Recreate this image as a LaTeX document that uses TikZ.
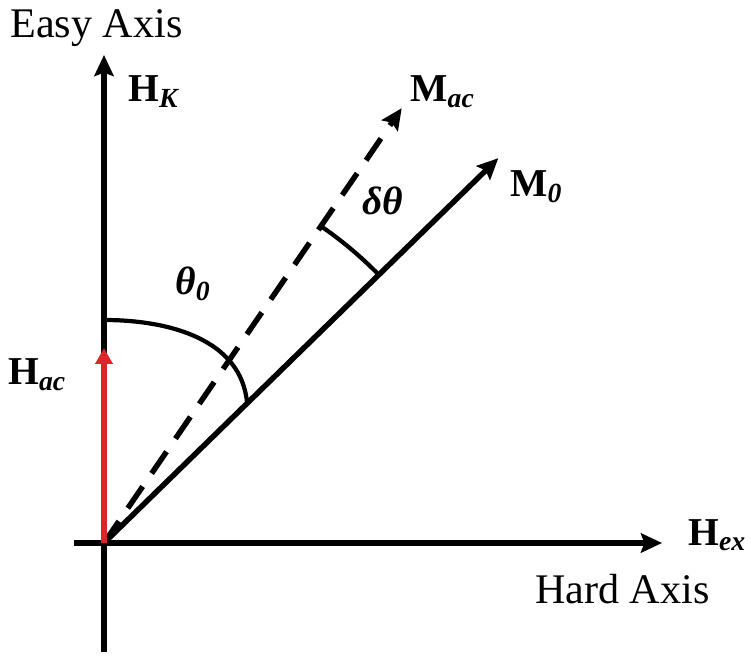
\documentclass[tikz,border=0pt]{standalone}
\usepackage{fontspec}
\setmainfont{Liberation Serif}
\usepackage{xcolor}
\usepackage{tikz}
\usetikzlibrary{arrows.meta,positioning}

\definecolor{acred}{RGB}{218,38,42}

\begin{document}
\begin{tikzpicture}[
      x=0.02cm, y=0.02cm,
      axis/.style={line width=3.1pt, -{Stealth[length=12pt, width=11pt, inset=2pt]}},
      vec/.style={line width=3.1pt, -{Stealth[length=12pt, width=11pt, inset=2pt]}},
      dvec/.style={vec, dash pattern=on 15pt off 9pt},
      redvec/.style={line width=3.1pt, acred, -{Triangle[length=9pt, width=9.5pt]}},
      anglearc/.style={line width=2.4pt},
      axname/.style={font=\fontsize{24}{28}\selectfont, inner sep=0pt},
      lab/.style={font=\fontsize{22.5}{26}\selectfont\bfseries, inner sep=0pt}
    ]
    \useasboundingbox (-104,-113) rectangle (647,543);
    % axes
    \coordinate (O) at (0,0);
    \coordinate (ybot) at (0,-109);
    \coordinate (ytop) at (0,488);
    \coordinate (xleft) at (-30,0);
    \coordinate (xright) at (558,0);
    \draw[axis] (ybot) -- (ytop);
    \draw[axis] (xleft) -- (xright);
    % vectors
    \coordinate (m0tip) at (44.3:551);
    \coordinate (mactip) at (55.6:527);
    \coordinate (hactip) at (0,195);
    \draw[vec] (O) -- (m0tip);
    \draw[dvec] (O) -- (mactip);
    \draw[redvec] (O) -- (hactip);
    % angles
    \coordinate (t0a) at (0,223);
    \coordinate (t0b) at (44.3:200);
    \draw[anglearc] (t0a) to[out=0, in=95] (t0b);
    \coordinate (dta) at (55.6:384);
    \draw[anglearc] (dta) arc[start angle=55.6, end angle=44.3, radius=384];
    % labels
    \node[axname, anchor=base west] (easy) at (-94,505) {Easy Axis};
    \node[axname, anchor=base east] (hard) at (606,-60) {Hard Axis};
    \node[lab, anchor=base west] (hk) at (24,441) {H\textsubscript{\textit{K}}};
    \node[lab, anchor=base west] (hac) at (-96,158) {H\textsubscript{\textit{ac}}};
    \node[lab, anchor=base west] (hex) at (584,-2) {H\textsubscript{\textit{ex}}};
    \node[lab, anchor=base west] (mac) at (306,441) {M\textsubscript{\textit{ac}}};
    \node[lab, anchor=base west] (m0) at (406,346) {M\textsubscript{\textit{0}}};
    \node[lab, anchor=base west] (theta0) at (71,248) {\textit{θ}\textsubscript{\textit{0}}};
    \node[lab, anchor=base west] (dtheta) at (258,328) {\textit{δθ}};
  \end{tikzpicture}
\end{document}
